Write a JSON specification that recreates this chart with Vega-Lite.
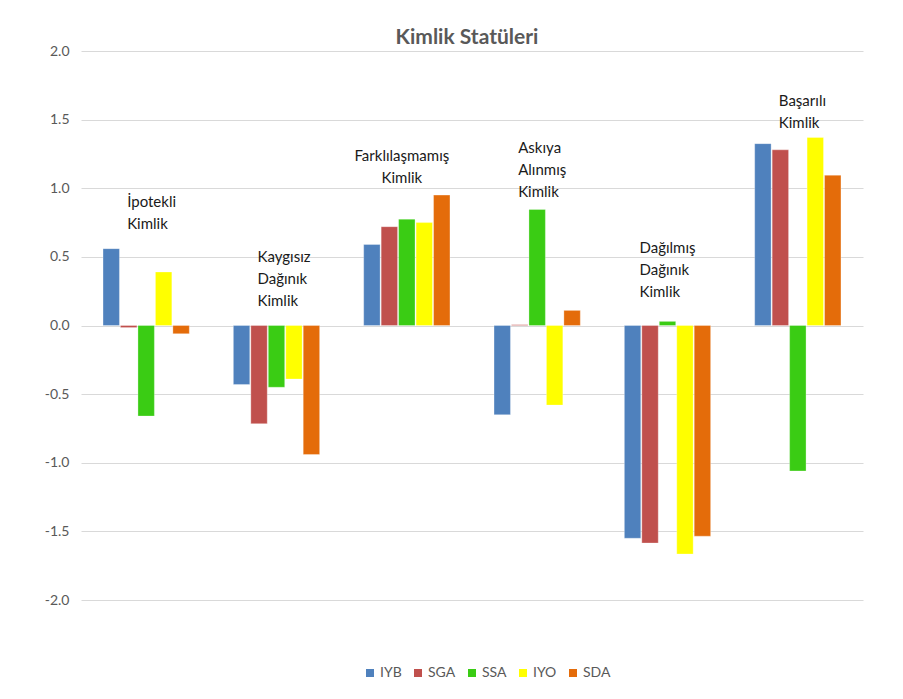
{
  "$schema": "https://vega.github.io/schema/vega-lite/v6.json",
  "autosize": {"type": "none"},
  "width": 782,
  "height": 549,
  "padding": {"left": 81, "top": 51, "right": 40, "bottom": 99},
  "background": "white",
  "title": {"text": "Kimlik Statüleri", "anchor": "middle", "offset": -4, "dx": -5, "fontSize": 21, "font": "Lato", "fontWeight": "bold", "color": "#595959"},
  "datasets": {
    "bars": [
      {"grup": "İpotekli", "seri": "IYB", "deger": 0.56},
      {"grup": "İpotekli", "seri": "SGA", "deger": -0.015},
      {"grup": "İpotekli", "seri": "SSA", "deger": -0.66},
      {"grup": "İpotekli", "seri": "IYO", "deger": 0.39},
      {"grup": "İpotekli", "seri": "SDA", "deger": -0.06},
      {"grup": "Kaygısız", "seri": "IYB", "deger": -0.43},
      {"grup": "Kaygısız", "seri": "SGA", "deger": -0.715},
      {"grup": "Kaygısız", "seri": "SSA", "deger": -0.45},
      {"grup": "Kaygısız", "seri": "IYO", "deger": -0.39},
      {"grup": "Kaygısız", "seri": "SDA", "deger": -0.94},
      {"grup": "Farklılaşmamış", "seri": "IYB", "deger": 0.59},
      {"grup": "Farklılaşmamış", "seri": "SGA", "deger": 0.72},
      {"grup": "Farklılaşmamış", "seri": "SSA", "deger": 0.775},
      {"grup": "Farklılaşmamış", "seri": "IYO", "deger": 0.75},
      {"grup": "Farklılaşmamış", "seri": "SDA", "deger": 0.95},
      {"grup": "Askıya", "seri": "IYB", "deger": -0.65},
      {"grup": "Askıya", "seri": "SGA", "deger": 0.006},
      {"grup": "Askıya", "seri": "SSA", "deger": 0.845},
      {"grup": "Askıya", "seri": "IYO", "deger": -0.58},
      {"grup": "Askıya", "seri": "SDA", "deger": 0.11},
      {"grup": "Dağılmış", "seri": "IYB", "deger": -1.55},
      {"grup": "Dağılmış", "seri": "SGA", "deger": -1.585},
      {"grup": "Dağılmış", "seri": "SSA", "deger": 0.03},
      {"grup": "Dağılmış", "seri": "IYO", "deger": -1.665},
      {"grup": "Dağılmış", "seri": "SDA", "deger": -1.535},
      {"grup": "Başarılı", "seri": "IYB", "deger": 1.325},
      {"grup": "Başarılı", "seri": "SGA", "deger": 1.28},
      {"grup": "Başarılı", "seri": "SSA", "deger": -1.06},
      {"grup": "Başarılı", "seri": "IYO", "deger": 1.37},
      {"grup": "Başarılı", "seri": "SDA", "deger": 1.095}
    ],
    "labels": [
      {"grup": "İpotekli", "etiket": ["İpotekli", "Kimlik"], "konum": 0.86, "hiza": "sol"},
      {"grup": "Kaygısız", "etiket": ["Kaygısız", "Dağınık", "Kimlik"], "konum": 0.46, "hiza": "sol"},
      {"grup": "Farklılaşmamış", "etiket": ["Farklılaşmamış", "Kimlik"], "konum": 1.2, "hiza": "orta"},
      {"grup": "Askıya", "etiket": ["Askıya", "Alınmış", "Kimlik"], "konum": 1.255, "hiza": "sol"},
      {"grup": "Dağılmış", "etiket": ["Dağılmış", "Dağınık", "Kimlik"], "konum": 0.525, "hiza": "sol2"},
      {"grup": "Başarılı", "etiket": ["Başarılı", "Kimlik"], "konum": 1.6, "hiza": "sol"}
    ]
  },
  "encoding": {
    "x": {
      "field": "grup", "type": "nominal",
      "sort": ["İpotekli", "Kaygısız", "Farklılaşmamış", "Askıya", "Dağılmış", "Başarılı"],
      "scale": {"paddingInner": 0.33, "paddingOuter": 0.165},
      "axis": null
    },
    "y": {
      "type": "quantitative",
      "scale": {"domain": [-2, 2], "nice": false},
      "axis": {
        "values": [-2, -1.5, -1, -0.5, 0, 0.5, 1, 1.5, 2],
        "labelExpr": "replace(format(datum.value, '.1f'), '−', '-')",
        "title": null,
        "domain": false,
        "ticks": false,
        "labelPadding": 12,
        "labelFont": "Lato",
        "labelFontSize": 14,
        "labelColor": "#595959",
        "gridColor": "#D9D9D9",
        "gridWidth": 1
      }
    }
  },
  "layer": [
    {
      "data": {"name": "bars"},
      "mark": {"type": "bar", "stroke": "#ffffff", "strokeWidth": 0.6, "strokeOpacity": 0.5},
      "encoding": {
        "y": {"field": "deger", "type": "quantitative"},
        "xOffset": {"field": "seri", "type": "nominal", "sort": ["IYB", "SGA", "SSA", "IYO", "SDA"], "scale": {"paddingInner": 0.06, "paddingOuter": 0.03}},
        "color": {
          "field": "seri", "type": "nominal",
          "sort": ["IYB", "SGA", "SSA", "IYO", "SDA"],
          "scale": {"domain": ["IYB", "SGA", "SSA", "IYO", "SDA"], "range": ["#4F81BD", "#C0504D", "#3ACC14", "#FFFF00", "#E46C0A"]},
          "legend": {
            "title": null,
            "orient": "none",
            "direction": "horizontal",
            "legendX": 282,
            "legendY": 615,
            "symbolType": "square",
            "symbolSize": 64,
            "symbolStrokeWidth": 0,
            "labelFont": "Lato",
            "labelFontSize": 14,
            "labelColor": "#595959",
            "columnPadding": 9,
            "labelOffset": 3
          }
        }
      }
    },
    {
      "data": {"name": "labels"},
      "transform": [{"filter": "datum.hiza == 'sol'"}],
      "mark": {"type": "text", "align": "left", "baseline": "alphabetic", "dx": -19, "lineHeight": 22, "font": "Lato", "fontSize": 15, "color": "#1a1a1a"},
      "encoding": {
        "y": {"field": "konum", "type": "quantitative"},
        "text": {"field": "etiket"}
      }
    },
    {
      "data": {"name": "labels"},
      "transform": [{"filter": "datum.hiza == 'sol2'"}],
      "mark": {"type": "text", "align": "left", "baseline": "alphabetic", "dx": -28, "lineHeight": 22, "font": "Lato", "fontSize": 15, "color": "#1a1a1a"},
      "encoding": {
        "y": {"field": "konum", "type": "quantitative"},
        "text": {"field": "etiket"}
      }
    },
    {
      "data": {"name": "labels"},
      "transform": [{"filter": "datum.hiza == 'orta'"}],
      "mark": {"type": "text", "align": "center", "baseline": "alphabetic", "dx": -5, "lineHeight": 22, "font": "Lato", "fontSize": 15, "color": "#1a1a1a"},
      "encoding": {
        "y": {"field": "konum", "type": "quantitative"},
        "text": {"field": "etiket"}
      }
    }
  ],
  "config": {
    "view": {"stroke": null}
  }
}
